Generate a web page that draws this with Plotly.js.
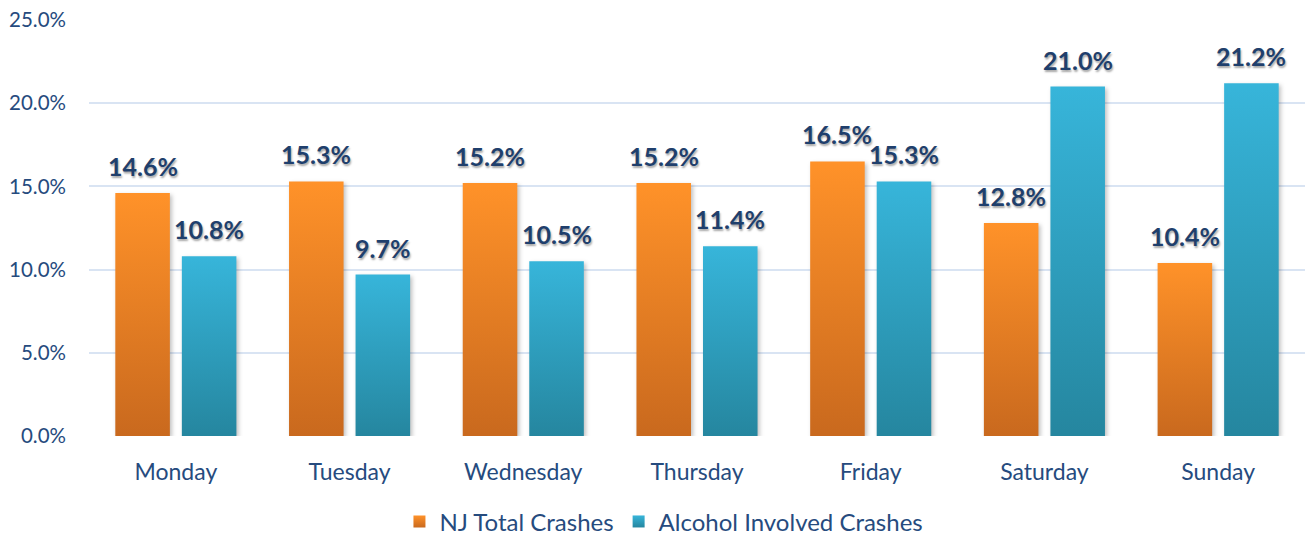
<!DOCTYPE html>
<html>
<head>
<meta charset="utf-8">
<script src="https://cdn.plot.ly/plotly-3.0.1.min.js"></script>
<style>
html,body{margin:0;padding:0;background:#fff;}
#chart{width:1307px;height:538px;}
</style>
</head>
<body>
<div id="chart"></div>
<script>
var days = ["Monday","Tuesday","Wednesday","Thursday","Friday","Saturday","Sunday"];
var njTotal = [14.6, 15.3, 15.2, 15.2, 16.5, 12.8, 10.4];
var alcohol = [10.8, 9.7, 10.5, 11.4, 15.3, 21.0, 21.2];
var seriesNames = ["NJ Total Crashes", "Alcohol Involved Crashes"];
var yTicks = [0, 5, 10, 15, 20, 25];

var FONT = "Lato, 'Open Sans', sans-serif";
var TICKCOL = "#264b7e";
var LABCOL = "#1f3f6c";
var BARGAP = 0.234, GROUPGAP = 0.18;

function draw(){
  var traces = [
    {type:"bar", name:seriesNames[0], x:days, y:njTotal, marker:{color:"#f0861f"}, hoverinfo:"y"},
    {type:"bar", name:seriesNames[1], x:days, y:alcohol, marker:{color:"#30a6c8"}, hoverinfo:"y"}
  ];

  var annotations = [];
  var off = (1 - BARGAP) / 4;
  [njTotal, alcohol].forEach(function(arr, s){
    arr.forEach(function(v, i){
      annotations.push({
        x: i + (s === 0 ? -off : off), y: v, xref:"x", yref:"y",
        text: v.toFixed(1) + "%", showarrow:false, yanchor:"middle", yshift:27,
        font:{family:FONT, size:25, color:LABCOL, weight:"bold", shadow:"1px 2px 2px rgba(0,0,0,0.35)"}
      });
    });
  });

  var layout = {
    width:1307, height:538,
    margin:{l:89, r:2, t:20, b:102},
    paper_bgcolor:"#fff", plot_bgcolor:"#fff",
    barmode:"group", bargap:BARGAP, bargroupgap:GROUPGAP,
    font:{family:FONT, color:TICKCOL},
    xaxis:{showgrid:false, zeroline:false, showline:false, ticks:"",
           tickfont:{family:FONT, size:23, color:TICKCOL}, ticklabelstandoff:20},
    yaxis:{range:[0,25], tickvals:yTicks, ticktext:yTicks.map(function(t){return t.toFixed(1)+"%";}),
           showgrid:true, gridcolor:"#d9e4f3", gridwidth:2, zeroline:false, showline:false,
           tickfont:{family:FONT, size:20.5, color:TICKCOL}, ticklabelstandoff:22},
    showlegend:true,
    legend:{orientation:"h", xref:"container", yref:"container", x:0.508, xanchor:"center", y:0.03, yanchor:"middle",
            font:{family:FONT, size:24, color:TICKCOL}, itemwidth:30, tracegroupgap:0},
    annotations: annotations
  };

  return Plotly.newPlot("chart", traces, layout, {displayModeBar:false, staticPlot:true}).then(function(gd){
    var NS = "http://www.w3.org/2000/svg";
    var svg = gd.querySelector(".main-svg");
    var defs = svg.querySelector("defs") || svg.insertBefore(document.createElementNS(NS,"defs"), svg.firstChild);
    function grad(id, top, bottom){
      var g = document.createElementNS(NS,"linearGradient");
      g.setAttribute("id", id); g.setAttribute("x1","0"); g.setAttribute("y1","0"); g.setAttribute("x2","0"); g.setAttribute("y2","1");
      [[0,top],[1,bottom]].forEach(function(st){
        var s = document.createElementNS(NS,"stop");
        s.setAttribute("offset", st[0]); s.setAttribute("stop-color", st[1]);
        g.appendChild(s);
      });
      defs.appendChild(g);
    }
    grad("gOrange", "#ff9229", "#c9691e");
    grad("gBlue", "#37b5da", "#25869f");
    var ids = ["gOrange","gBlue"];
    gd.querySelectorAll(".barlayer .trace").forEach(function(tr, k){
      tr.querySelectorAll("path").forEach(function(p){
        p.style.fill = "url(#" + ids[k] + ")";
        p.style.filter = "drop-shadow(2px 2px 2px rgba(0,0,0,0.25))";
      });
    });
    gd.querySelectorAll(".legend .traces").forEach(function(tr, k){
      tr.querySelectorAll(".legendpoints path").forEach(function(p){
        p.style.fill = "url(#" + ids[k] + ")";
      });
    });
  });
}

var loads = document.fonts ? Promise.all([
  document.fonts.load("24px Lato"), document.fonts.load("bold 25px Lato")
]).catch(function(){}) : Promise.resolve();
loads.then(draw);
</script>
</body>
</html>
